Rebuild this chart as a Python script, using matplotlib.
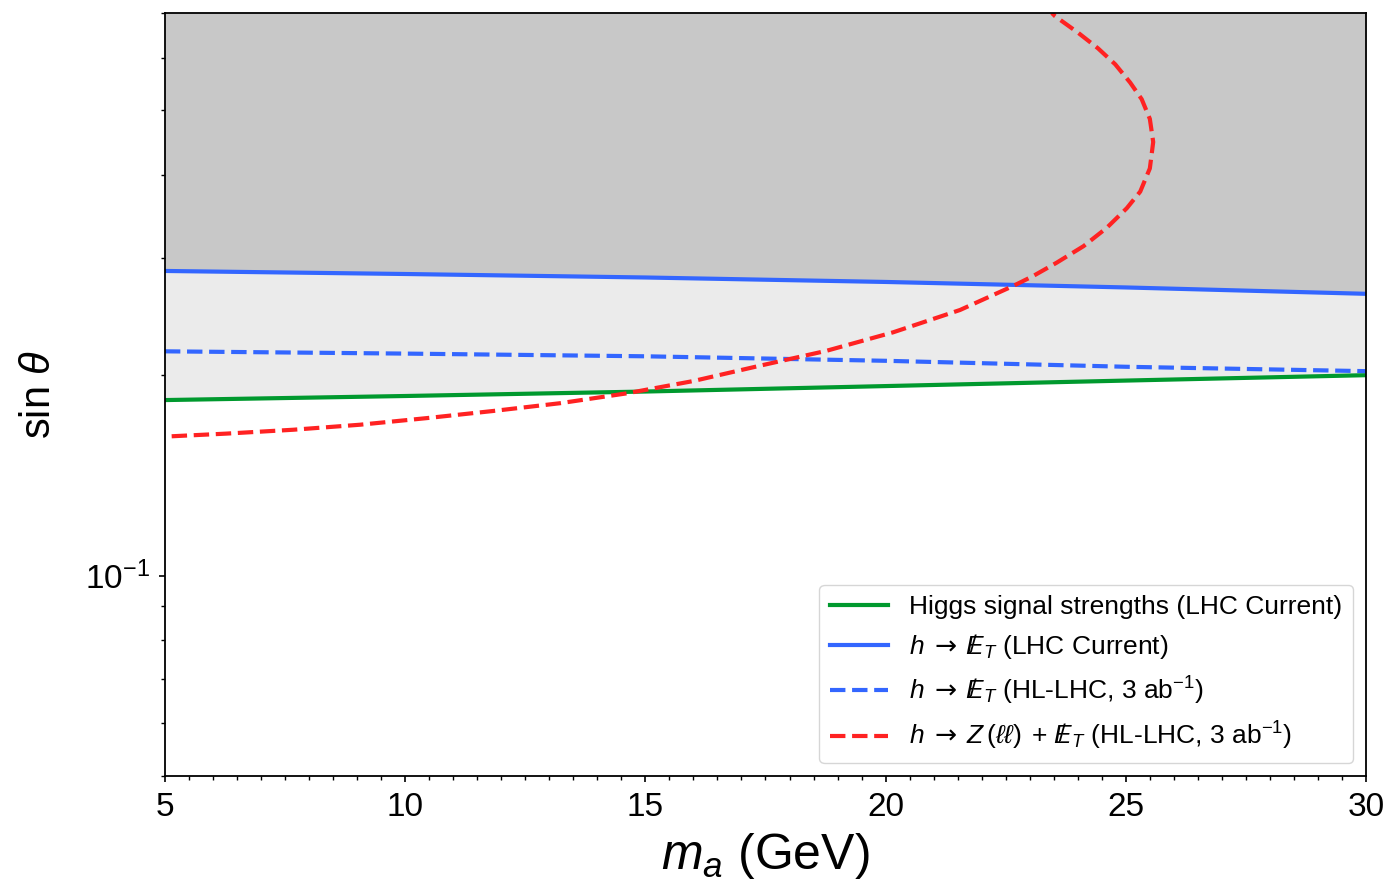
import numpy as np
import matplotlib
matplotlib.use("Agg")
import matplotlib.pyplot as plt
from matplotlib.ticker import MultipleLocator, NullFormatter

plt.rcParams['font.family'] = ['Liberation Sans', 'DejaVu Sans']
plt.rcParams['mathtext.fontset'] = 'custom'
plt.rcParams['mathtext.rm'] = 'Liberation Sans'
plt.rcParams['mathtext.it'] = 'Liberation Sans:italic'
plt.rcParams['mathtext.bf'] = 'Liberation Sans:bold'
plt.rcParams['mathtext.sf'] = 'DejaVu Sans'

# mass grid for the three nearly straight limits
m_lines = [5, 10, 15, 20, 25, 30]
higgs_current = [0.1835, 0.1861, 0.1890, 0.1926, 0.1963, 0.2000]
met_current = [0.2868, 0.2838, 0.2804, 0.2761, 0.2709, 0.2650]
met_hl = [0.2172, 0.2155, 0.2135, 0.2102, 0.2059, 0.2028]

# h -> Z(ll) + MET (HL-LHC), bends back on itself
m_zll = [5.14, 6.28, 7.67, 9.06, 10.45, 11.83, 13.22, 14.61, 16.00, 17.39,
         18.77, 20.16, 21.55, 22.66, 23.07, 23.56, 24.12, 24.60, 25.02, 25.30,
         25.50, 25.57, 25.50, 25.33, 25.09, 24.78, 24.42, 24.01, 23.53, 23.46]
s_zll = [0.1619, 0.1634, 0.1656, 0.1685, 0.1724, 0.1767, 0.1815, 0.1878, 0.1960, 0.2067,
         0.2176, 0.2320, 0.2506, 0.2724, 0.2818, 0.2951, 0.3125, 0.3328, 0.3563, 0.3774,
         0.4089, 0.4480, 0.4853, 0.5196, 0.5503, 0.5861, 0.6195, 0.6535, 0.6920, 0.7000]

ymin, ymax = 0.05, 0.7

arrow = r'\;\mathsf{\rightarrow}\;'
etmiss = r'\;\not\!\!E_T'

fig = plt.figure(figsize=(13.86, 8.83), dpi=100)
ax = fig.add_axes([0.119, 0.1212, 0.8666, 0.8641])

ax.fill_between(m_lines, met_current, ymax, color='#c8c8c8', lw=0)
ax.fill_between(m_lines, higgs_current, met_current, color='#ebebeb', lw=0)

ax.plot(m_lines, higgs_current, color='#00992e', lw=3,
        label='Higgs signal strengths (LHC Current)')
ax.plot(m_lines, met_current, color='#3366ff', lw=3,
        label='$h' + arrow + etmiss + '$ (LHC Current)')
ax.plot(m_lines, met_hl, color='#3366ff', lw=3, ls='--',
        label='$h' + arrow + etmiss + '$ (HL-LHC, 3 ab$^{-1}$)')
ax.plot(m_zll, s_zll, color='#ff2222', lw=3, ls='--',
        label='$h' + arrow + r'Z\,(\ell\ell)\;+\,' + etmiss + '$ (HL-LHC, 3 ab$^{-1}$)')

ax.set_yscale('log')
ax.set_xlim(5, 30)
ax.set_ylim(ymin, ymax)
ax.xaxis.set_major_locator(MultipleLocator(5))
ax.xaxis.set_minor_locator(MultipleLocator(0.5))
ax.yaxis.set_minor_formatter(NullFormatter())
ax.tick_params(axis='both', which='major', labelsize=24, length=4.5, width=1.2)
ax.tick_params(axis='x', which='major', pad=7)
ax.tick_params(axis='y', which='major', pad=6)
ax.tick_params(axis='both', which='minor', length=3, width=1)
for sp in ax.spines.values():
    sp.set_linewidth(1.3)

ax.set_xlabel(r'$m_a$ (GeV)', fontsize=36, labelpad=6)
ax.set_ylabel(r'sin $\theta$', fontsize=30, labelpad=19)

ax.legend(loc='lower right', fontsize=19, handlelength=2.2)

fig.savefig('out.png', dpi=100)
